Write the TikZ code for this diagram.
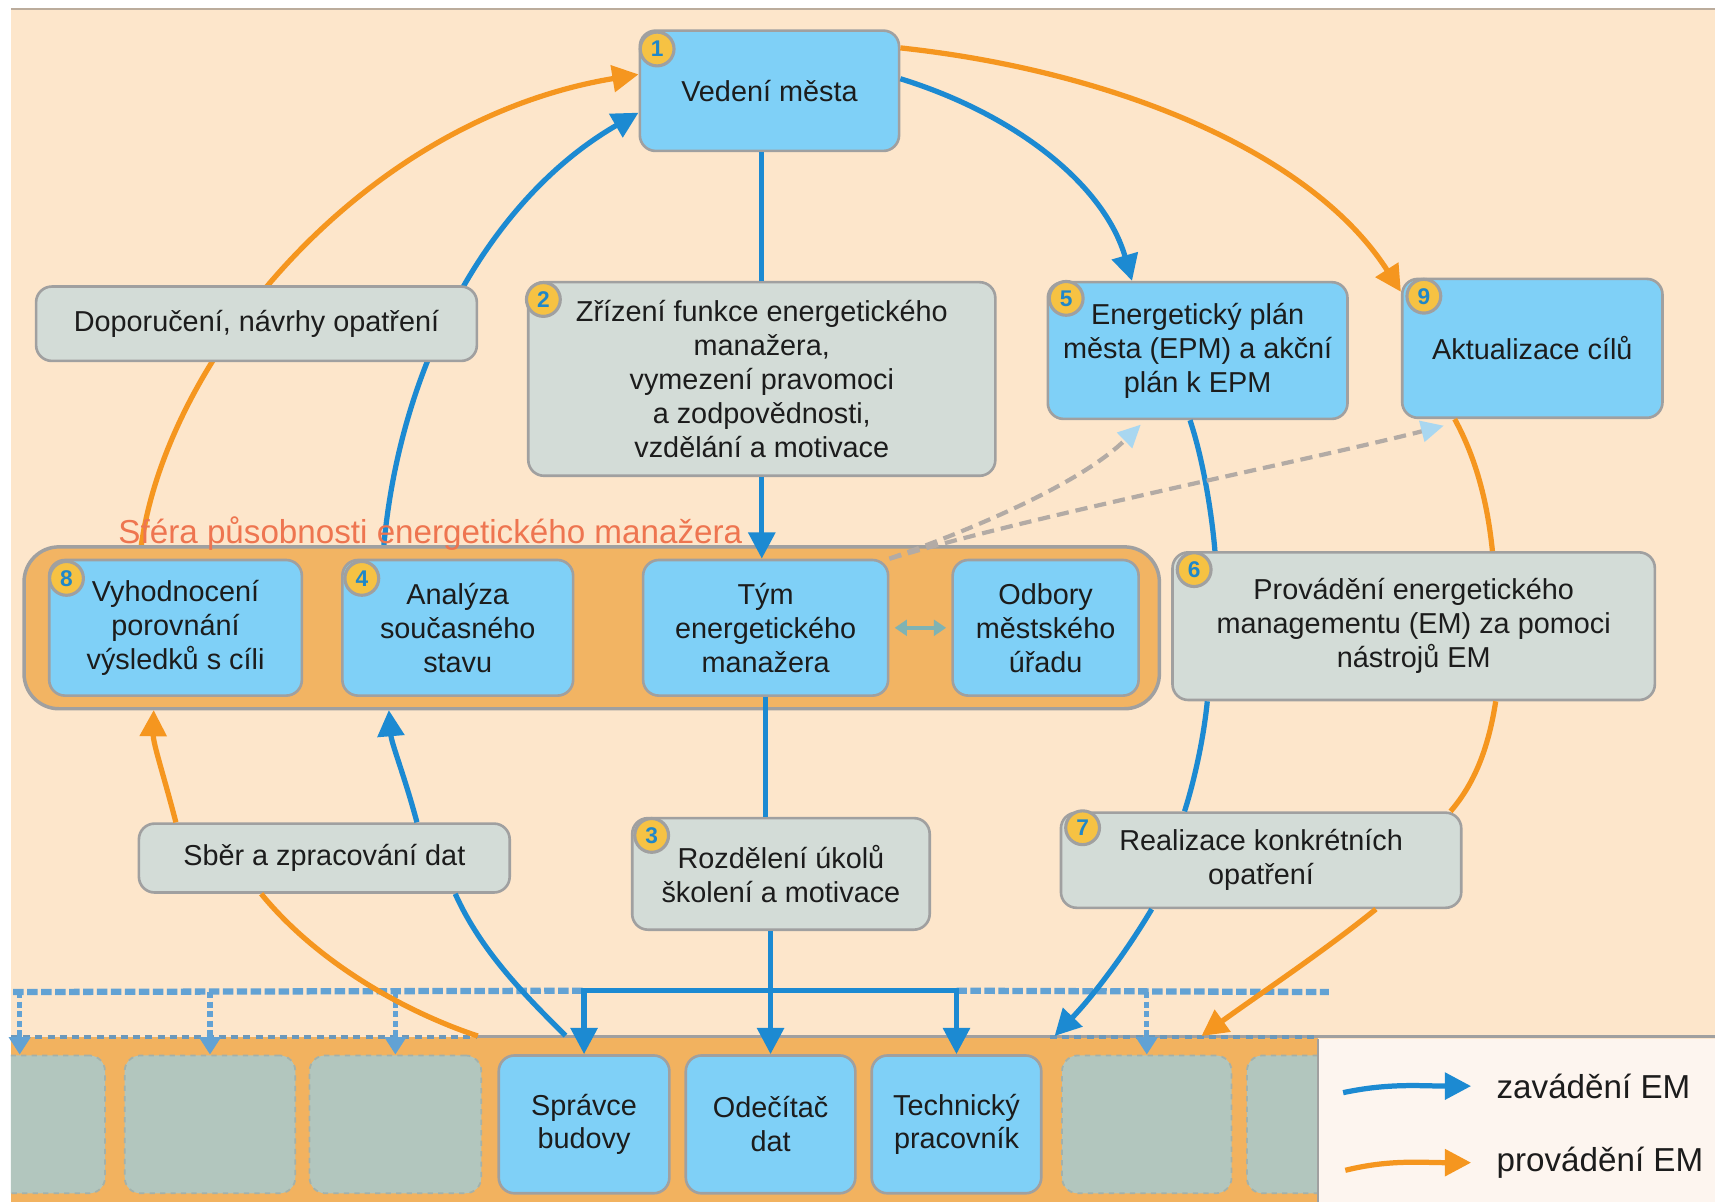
\documentclass[tikz,border=0pt]{standalone}
\usepackage{fontspec}
\setmainfont{Liberation Sans}
\usetikzlibrary{arrows.meta,calc}

\definecolor{bgpeach}{HTML}{FDE6CB}
\definecolor{topline}{HTML}{BBAC9C}
\definecolor{boxblue}{HTML}{7FD0F7}
\definecolor{boxgray}{HTML}{D3DCD7}
\definecolor{boxline}{HTML}{A0A0A0}
\definecolor{frameorange}{HTML}{F2B463}
\definecolor{bandorange}{HTML}{F2B25F}
\definecolor{cellgray}{HTML}{B2C6BE}
\definecolor{arrowblue}{HTML}{1C8AD2}
\definecolor{arroworange}{HTML}{F5961F}
\definecolor{badgeyellow}{HTML}{F6C243}
\definecolor{numblue}{HTML}{1F87C9}
\definecolor{labelred}{HTML}{EE7550}
\definecolor{legendbg}{HTML}{FDF5EF}
\definecolor{dashblue}{HTML}{62A2D4}
\definecolor{dashgray}{HTML}{B3ABA5}
\definecolor{tipblue}{HTML}{A9D7F0}
\definecolor{textdark}{HTML}{1C1C1C}

\newcommand{\boxfont}{\fontsize{16.5}{19.4}\selectfont}
\newcommand{\labelfont}{\fontsize{19}{22}\selectfont}
\newcommand{\badgefont}{\fontsize{13}{13}\selectfont\bfseries}

\pgfdeclarelayer{bg}
\pgfdeclarelayer{back}
\pgfsetlayers{bg,back,main}

\tikzset{
  boxsize/.style 2 args={minimum width=#1*0.022cm, minimum height=#2*0.022cm},
  bluebox/.style={draw=boxline, line width=1.5pt, fill=boxblue, rounded corners=9pt,
    align=center, inner sep=0pt, text=textdark, font=\boxfont},
  graybox/.style={bluebox, fill=boxgray},
  cellbox/.style={bluebox, fill=cellgray, dashed, line width=1pt, draw=cellgray!70!gray},
  badge/.style={circle, draw=boxline, line width=1.8pt, fill=badgeyellow, text=numblue,
    font=\badgefont, inner sep=0pt, minimum size=0.68cm},
  blueline/.style={draw=arrowblue, line width=3pt},
  orangeline/.style={draw=arroworange, line width=3pt},
  bluearrow/.style={blueline, -{Triangle[length=15pt,width=15pt]}},
  orangearrow/.style={orangeline, -{Triangle[length=15pt,width=15pt]}},
  dashline/.style={draw=dashblue, line width=3.6pt, dash pattern=on 6pt off 2pt},
  dasharrow/.style={dashline, line width=3pt, dash pattern=on 3.5pt off 2pt, -{Triangle[length=10pt,width=12pt]}},
  grayarrow/.style={draw=dashgray, line width=2.4pt, dash pattern=on 7pt off 4pt,
    -{Triangle[length=13pt,width=12pt,color=tipblue]}},
}

\begin{document}
\begin{tikzpicture}[x=0.022cm, y=-0.022cm]
    \useasboundingbox (0,0) rectangle (1568,1099);

    % boxes of the upper half
    \node[bluebox, boxsize={237}{110}] (vedeni) at (703.5,83) {Vedení města};
    \node[graybox, boxsize={403}{68}] (doporuceni) at (234.5,296) {Doporučení, návrhy opatření};
    \node[graybox, boxsize={427}{177}] (zrizeni) at (696.5,346.5) {Zřízení funkce energetického\\manažera,\\vymezení pravomoci\\a zodpovědnosti,\\vzdělání a motivace};
    \node[bluebox, boxsize={274}{125}] (epm) at (1095,320.5) {Energetický plán\\města (EPM) a akční\\plán k EPM};
    \node[bluebox, boxsize={238}{127}] (aktualizace) at (1401,318.5) {Aktualizace cílů};

    % sphere of the energy manager
    \node[draw=boxline, line width=2pt, fill=frameorange, rounded corners=20pt, boxsize={1038}{148}] (sfera) at (541,574) {};
    \node[anchor=base west, text=labelred, font=\labelfont, inner sep=0pt] (sferatext) at (108,497) {Sféra působnosti energetického manažera};
    \node[bluebox, boxsize={231}{124}] (vyhodnoceni) at (160.5,574) {Vyhodnocení\\porovnání\\výsledků s cíli};
    \node[bluebox, boxsize={211}{124}] (analyza) at (418.5,574) {Analýza\\současného\\stavu};
    \node[bluebox, boxsize={224}{124}] (tym) at (700,574) {Tým\\energetického\\manažera};
    \node[bluebox, boxsize={170}{124}] (odbory) at (956,574) {Odbory\\městského\\úřadu};
    \node[graybox, boxsize={441}{135}] (provadeni) at (1292.5,572.5) {Provádění energetického\\managementu (EM) za pomoci\\nástrojů EM};

    % lower half
    \node[graybox, boxsize={339}{63}] (sber) at (296.5,784.5) {Sběr a zpracování dat};
    \node[graybox, boxsize={272}{102}] (rozdeleni) at (714,799) {Rozdělení úkolů\\školení a motivace};
    \node[graybox, boxsize={366}{87}] (realizace) at (1153,786.5) {Realizace konkrétních\\opatření};

    % staff band
    \fill[bandorange] (10,948) rectangle (1205,1099);
    \begin{scope}
        \clip (10,948) rectangle (1205,1099);
        \node[cellbox, boxsize={156}{126}] (g1) at (18,1028) {};
        \node[cellbox, boxsize={156}{126}] (g2) at (192,1028) {};
        \node[cellbox, boxsize={157}{126}] (g3) at (361.5,1028) {};
        \node[bluebox, boxsize={156}{126}] (spravce) at (534,1028) {Správce\\budovy};
        \node[bluebox, boxsize={155}{126}] (odecitac) at (704.5,1028) {Odečítač\\dat};
        \node[bluebox, boxsize={155}{126}] (technik) at (874.5,1028) {Technický\\pracovník};
        \node[cellbox, boxsize={155}{126}] (g4) at (1048.5,1028) {};
        \node[cellbox, boxsize={156}{126}] (g5) at (1218,1028) {};
    \end{scope}
    \draw[boxline, line width=1.8pt] (436,948) -- (1568,948);
    \draw[dashline, draw=dashblue!70!gray, line width=2pt, dash pattern=on 4pt off 3pt] (10,948) -- (436,948);
    \draw[dashline, draw=dashblue!70!gray, line width=2pt, dash pattern=on 4pt off 3pt] (960,948) -- (1205,948);

    % background and curves running behind the boxes
    \begin{pgfonlayer}{bg}
        \fill[bgpeach] (10,8) rectangle (1568,1099);
        \draw[topline, line width=1.2pt] (10,8) -- (1568,8);
    \end{pgfonlayer}
    \begin{pgfonlayer}{back}
        \draw[orangearrow] ($(vyhodnoceni.north)+(-32,-7)$) .. controls (150,330) and (330,110) .. ($(vedeni.west)+(0,-15)$);
        \draw[bluearrow] ($(analyza.north)+(-68,-7)$) .. controls (365,330) and (450,180) .. ($(vedeni.west)+(0,20)$);
    \end{pgfonlayer}

    % legend
    \fill[legendbg] (1205,950) rectangle (1568,1099);
    \draw[boxline, line width=1pt] (1205,950) -- (1205,1099);
    \node[anchor=west, font=\labelfont, text=textdark, inner sep=0pt] (zavedeni) at (1368,993) {zavádění EM};
    \node[anchor=west, font=\labelfont, text=textdark, inner sep=0pt] (provadeniem) at (1368,1063) {provádění EM};
    \coordinate (lblue) at (1228,999);
    \coordinate (lorange) at (1230,1070);
    \draw[bluearrow] (lblue) .. controls (1270,990) and (1300,993) .. ($(zavedeni.west)+(-23,0)$);
    \draw[orangearrow] (lorange) .. controls (1270,1060) and (1300,1063) .. ($(provadeniem.west)+(-23,0)$);

    % badges
    \node[badge] (b1) at ($(vedeni.north west)+(17,18)$) {1};
    \node[badge] (b2) at ($(zrizeni.north west)+(15,17)$) {2};
    \node[badge] (b3) at ($(rozdeleni.north west)+(19,17)$) {3};
    \node[badge] (b4) at ($(analyza.north west)+(19,18)$) {4};
    \node[badge] (b5) at ($(epm.north west)+(18,16)$) {5};
    \node[badge] (b6) at ($(provadeni.north west)+(21,17)$) {6};
    \node[badge] (b7) at ($(realizace.north west)+(21,15)$) {7};
    \node[badge] (b8) at ($(vyhodnoceni.north west)+(17,18)$) {8};
    \node[badge] (b9) at ($(aktualizace.north west)+(21,17)$) {9};

    % dashed guide lines above the staff band
    \coordinate (dl) at (12,907);
    \coordinate (dr) at (1215,907);
    \draw[dashline] (dl) -- ($(spravce.north)+(0,-58)$);
    \draw[dashline] ($(technik.north)+(0,-58)$) -- (dr);
    \draw[dasharrow] (g1.north |- dl) -- (g1.north);
    \draw[dasharrow] (g2.north |- dl) -- (g2.north);
    \draw[dasharrow] (g3.north |- dl) -- (g3.north);
    \draw[dasharrow] (g4.north |- dl) -- (g4.north);

    % straight connectors
    \draw[blueline] (vedeni.south -| zrizeni.north) -- (zrizeni.north);
    \draw[bluearrow] (zrizeni.south) -- (zrizeni.south |- tym.north);
    \draw[blueline] (tym.south) -- (tym.south |- rozdeleni.north);
    \draw[bluearrow] (rozdeleni.south -| odecitac.north) -- (odecitac.north);
    \draw[blueline, {Triangle[length=15pt,width=15pt]}-{Triangle[length=15pt,width=15pt]}] (spravce.north) -- ($(spravce.north)+(0,-58)$) -| (technik.north);
    \draw[draw=boxline!80!cyan, line width=2pt, {Triangle[length=7pt,width=9pt]}-{Triangle[length=7pt,width=9pt]}, shorten <=3pt, shorten >=3pt] (tym.east) -- (odbory.west);

    % curved connectors
    \draw[orangearrow] ($(vedeni.north east)+(0,17)$) .. controls (1020,65) and (1200,140) .. ($(aktualizace.north west)+(0,13)$);
    \draw[bluearrow] ($(vedeni.east)+(0,-11)$) .. controls (930,105) and (1010,170) .. ($(epm.north)+(-60,0)$);
    \draw[blueline] ($(epm.south)+(-7,0)$) .. controls (1100,420) and (1108,470) .. ($(provadeni.north west)+(40,0)$);
    \draw[orangeline] ($(aktualizace.south)+(-71,0)$) .. controls (1350,420) and (1360,460) .. ($(provadeni.north)+(72,0)$);
    \draw[blueline] ($(provadeni.south west)+(33,0)$) .. controls (1100,680) and (1090,720) .. ($(realizace.north)+(-70,0)$);
    \draw[orangeline] ($(provadeni.south)+(75,0)$) .. controls (1360,690) and (1345,720) .. ($(realizace.north east)+(-11,0)$);
    \draw[bluearrow] ($(realizace.south)+(-100,0)$) .. controls (1030,870) and (1000,910) .. ($(g4.north west)+(-6,-17)$);
    \draw[orangearrow] ($(realizace.south)+(105,0)$) .. controls (1210,870) and (1150,910) .. ($(g4.north)+(50,-17)$);
    \draw[orangearrow] ($(sber.north west)+(35,0)$) .. controls (150,710) and (140,680) .. ($(vyhodnoceni.south)+(-20,12)$);
    \draw[bluearrow] ($(sber.north east)+(-86,0)$) .. controls (370,710) and (358,680) .. ($(analyza.south)+(-63,12)$);
    \draw[orangeline] ($(sber.south west)+(113,0)$) .. controls (290,880) and (370,925) .. ($(g3.north east)+(-4,-17)$);
    \draw[blueline] ($(sber.south east)+(-51,0)$) .. controls (440,870) and (480,910) .. ($(spravce.north)+(-17,-17)$);

    % links from the team to the plans
    \draw[grayarrow] (tym.north east) .. controls (900,480) and (990,440) .. ($(epm.south)+(-52,4)$);
    \draw[grayarrow] (tym.north east) .. controls (950,470) and (1200,420) .. ($(aktualizace.south)+(-81,6)$);
\end{tikzpicture}
\end{document}
